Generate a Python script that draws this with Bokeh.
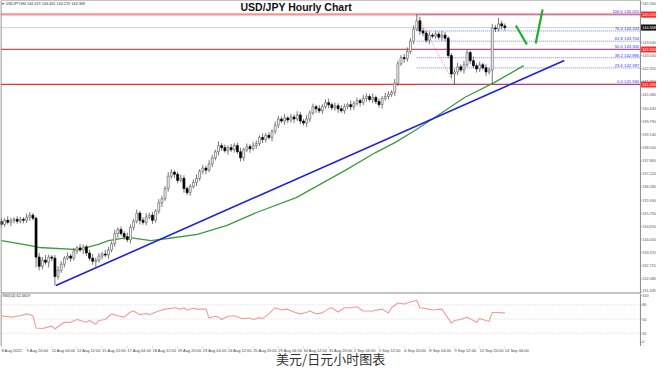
from bokeh.plotting import figure
from bokeh.layouts import column
from bokeh.models import Range1d
from bokeh.embed import file_html
from bokeh.resources import INLINE
from bokeh.core.properties import value

# ---------------- data ----------------
first_open = 134.90
closes = [
    134.75, 134.95, 134.85, 134.95, 135.00, 134.90, 135.00, 134.95, 135.10, 135.20,
    135.05, 133.15, 132.70, 133.00, 132.90, 133.15, 133.10, 132.20, 132.50, 132.80,
    133.10, 133.20, 133.10, 133.45, 133.60, 133.50, 133.65, 133.35, 133.10, 132.95,
    133.00, 133.20, 133.30, 133.25, 133.50, 133.80, 134.30, 134.50, 134.30, 134.15,
    134.00, 134.60, 134.90, 135.30, 134.95, 134.85, 135.10, 135.20, 134.95, 135.40,
    135.80, 136.00, 136.50, 137.10, 137.30, 137.20, 136.90, 137.00, 136.50, 136.30,
    136.60, 136.80, 137.00, 137.35, 137.50, 137.40, 137.70, 138.00, 138.30, 138.60,
    138.50, 138.35, 138.50, 138.40, 138.60, 138.30, 138.00, 138.40, 138.55, 138.45,
    138.60, 138.70, 139.00, 138.90, 139.10, 139.00, 139.30, 139.60, 139.90, 139.80,
    139.95, 139.85, 140.00, 139.90, 140.10, 139.80, 139.70, 139.90, 140.20, 140.50,
    140.40, 140.30, 140.50, 140.70, 140.60, 140.45, 140.55, 140.40, 140.30, 140.50,
    140.60, 140.50, 140.65, 140.80, 140.70, 140.90, 141.00, 140.85, 140.95, 140.75,
    140.60, 140.90, 141.00, 141.10, 141.20, 141.65, 142.60, 142.90, 142.85, 143.20,
    143.70, 144.30, 144.70, 144.20, 144.10, 143.75, 144.00, 143.95, 144.05, 143.90,
    144.00, 143.85, 143.00, 142.10, 142.20, 142.45, 142.30, 142.55, 143.15, 142.75,
    142.50, 142.35, 142.55, 142.40, 142.20, 142.30, 144.35, 144.30, 144.55, 144.45,
    144.37,
]
up_wick = [
    0.15, 0.10, 0.20, 0.12, 0.10, 0.15, 0.12, 0.10, 0.18, 0.15,
    0.10, 0.08, 0.20, 0.15, 0.25, 0.12, 0.10, 0.15, 0.20, 0.15,
    0.10, 0.18, 0.12, 0.15, 0.10, 0.20, 0.12, 0.10, 0.15, 0.20,
    0.12, 0.15, 0.10, 0.20, 0.15, 0.12, 0.18, 0.10, 0.15, 0.12,
    0.20, 0.15, 0.12, 0.18, 0.10, 0.15, 0.20, 0.12, 0.15, 0.10,
    0.18, 0.15, 0.12, 0.20, 0.15, 0.10, 0.12, 0.18, 0.15, 0.10,
    0.12, 0.15, 0.20, 0.10, 0.15, 0.12, 0.18, 0.15, 0.10, 0.20,
    0.12, 0.15, 0.10, 0.18, 0.12, 0.15, 0.20, 0.10, 0.15, 0.12,
    0.18, 0.15, 0.10, 0.20, 0.12, 0.15, 0.10, 0.18, 0.15, 0.12,
    0.20, 0.10, 0.15, 0.12, 0.18, 0.15, 0.10, 0.20, 0.12, 0.15,
    0.10, 0.18, 0.12, 0.15, 0.20, 0.10, 0.15, 0.12, 0.18, 0.15,
    0.10, 0.20, 0.12, 0.15, 0.10, 0.18, 0.15, 0.12, 0.20, 0.10,
    0.15, 0.12, 0.18, 0.15, 0.10, 0.20, 0.15, 0.12, 0.18, 0.20,
    0.15, 0.18, 0.31, 0.20, 0.15, 0.12, 0.18, 0.10, 0.15, 0.12,
    0.20, 0.15, 0.10, 0.12, 0.15, 0.20, 0.12, 0.18, 0.15, 0.10,
    0.20, 0.12, 0.15, 0.10, 0.18, 0.12, 0.20, 0.15, 0.30, 0.15,
    0.12,
]
down_wick = [
    0.15, 0.12, 0.10, 0.18, 0.15, 0.12, 0.10, 0.15, 0.12, 0.18,
    0.10, 0.50, 0.20, 0.15, 0.12, 0.25, 0.15, 0.44, 0.15, 0.12,
    0.15, 0.10, 0.18, 0.12, 0.15, 0.10, 0.20, 0.15, 0.12, 0.18,
    0.35, 0.12, 0.15, 0.10, 0.18, 0.12, 0.15, 0.20, 0.10, 0.15,
    0.12, 0.18, 0.15, 0.10, 0.20, 0.12, 0.15, 0.10, 0.18, 0.12,
    0.15, 0.20, 0.10, 0.15, 0.12, 0.18, 0.15, 0.10, 0.20, 0.12,
    0.15, 0.10, 0.18, 0.12, 0.15, 0.20, 0.10, 0.15, 0.12, 0.18,
    0.15, 0.10, 0.20, 0.12, 0.15, 0.10, 0.18, 0.15, 0.12, 0.20,
    0.10, 0.15, 0.12, 0.18, 0.15, 0.10, 0.20, 0.12, 0.15, 0.10,
    0.18, 0.15, 0.12, 0.20, 0.10, 0.15, 0.12, 0.18, 0.15, 0.10,
    0.20, 0.12, 0.15, 0.10, 0.18, 0.12, 0.15, 0.20, 0.10, 0.15,
    0.12, 0.18, 0.15, 0.10, 0.20, 0.12, 0.15, 0.10, 0.18, 0.12,
    0.15, 0.20, 0.10, 0.15, 0.12, 0.18, 0.15, 0.10, 0.20, 0.15,
    0.12, 0.15, 0.10, 0.18, 0.15, 0.12, 0.20, 0.10, 0.15, 0.12,
    0.18, 0.15, 0.12, 0.20, 0.51, 0.15, 0.12, 0.18, 0.10, 0.15,
    0.12, 0.18, 0.15, 0.10, 0.20, 0.12, 0.70, 0.15, 0.12, 0.18,
    0.15,
]

# moving average (green line), read at points
ma_bar = [0, 8.8, 11.9, 24.5, 30.8, 34, 40.3, 47.5, 52.8, 62.3, 71.7, 81.1,
          93.7, 109.4, 118.9, 125.2, 131.4, 137.7, 147.2, 156.6, 166]
ma_val = [133.96, 133.72, 133.62, 133.52, 133.77, 133.96, 134.11, 133.96, 134.06,
          134.26, 134.70, 135.33, 136.06, 137.40, 138.26, 138.76, 139.34, 139.97,
          140.95, 141.68, 142.51]

# blue trend line and green hand-drawn arrow
trend_bar = [17.3, 178.9]
trend_val = [131.76, 142.76]
arrow1_bar = [163.5, 167.0]
arrow1_val = [144.47, 143.54]
arrow2_bar = [169.8, 172.0]
arrow2_val = [143.59, 145.25]

# Fibonacci retracement
fib_start_bar = 132
fib_end_bar = 144
fib_names = ["100.0", "76.4", "61.8", "50.0", "38.2", "23.6", "0.0"]
fib_levels = [145.010, 144.203, 143.704, 143.300, 142.896, 142.397, 141.590]
red_levels = [145.010, 143.300, 141.590]
current_price = 144.368

price_ticks = [145.560, 144.915, 144.270, 143.640, 143.000, 142.355, 141.710,
               141.080, 140.430, 139.790, 139.140, 138.500, 137.860, 137.220,
               136.580, 135.930, 135.290, 134.650, 134.000, 133.370, 132.725,
               132.080, 131.435]

# RSI(14)
rsi_bar = [0, 3, 6, 8, 10, 11, 13, 16, 17, 19, 20, 22, 24, 27, 28, 30, 31, 33, 35,
           37, 39, 41, 42, 44, 46, 47, 50, 52, 54, 55, 57, 58, 59, 61, 62, 65, 66,
           68, 69, 70, 72, 74, 76, 77, 79, 80, 82, 83, 85, 87, 89, 91, 93, 95, 97,
           98, 100, 102, 104, 105, 107, 109, 111, 113, 115, 118, 121, 123, 124, 126,
           128, 130, 132, 133, 135, 137, 140, 141, 143, 144, 146, 148, 150, 151, 152,
           154, 155, 156, 158, 159, 160]
rsi_val = [57, 54, 57, 61, 57, 31, 30, 35, 29, 39, 43, 43, 49, 43, 47, 39, 47, 49, 61,
           57, 54, 65, 67, 59, 62, 59, 67, 71, 73, 74, 71, 74, 69, 73, 71, 71, 52,
           56, 54, 49, 56, 57, 52, 51, 52, 49, 53, 51, 61, 74, 69, 71, 65, 61, 64,
           67, 61, 63, 72, 74, 65, 74, 74, 76, 67, 67, 71, 63, 74, 84,
           82, 86, 90, 74, 72, 69, 71, 61, 41, 47, 49, 54, 47, 43, 51,
           47, 45, 64, 64, 63, 63]
rsi_levels = [80, 50, 20]
rsi_ticks = [0, 20, 50, 80, 100]

date_bar = [0, 8, 16, 24, 32, 40, 48, 56, 64, 72, 80, 88, 96, 104, 112, 120, 128,
            136, 144, 152, 160]
date_labels = ["8 Aug 2022", "9 Aug 20:00", "11 Aug 04:00", "12 Aug 12:00",
               "15 Aug 20:00", "17 Aug 04:00", "18 Aug 12:00", "19 Aug 20:00",
               "23 Aug 04:00", "24 Aug 12:00", "25 Aug 20:00", "29 Aug 04:00",
               "30 Aug 12:00", "31 Aug 20:00", "2 Sep 04:00", "5 Sep 12:00",
               "6 Sep 20:00", "8 Sep 04:00", "9 Sep 12:00", "12 Sep 20:00",
               "14 Sep 04:00"]

title_text = "USD/JPY Hourly Chart"
header_text = "\u25be USDJPY,H4  144.419 144.461 144.219 144.368"
rsi_text = "RSI(14) 62.4619"
caption_text = "美元/日元小时图表"

# ---------------- derived candle geometry ----------------
opens = [first_open] + closes[:-1]
bars = list(range(len(closes)))
highs = [max(o, c) + u for o, c, u in zip(opens, closes, up_wick)]
lows = [min(o, c) - d for o, c, d in zip(opens, closes, down_wick)]
bull = [i for i in bars if closes[i] >= opens[i]]
bear = [i for i in bars if closes[i] < opens[i]]

X0, X1 = -0.3, 208.2      # whole canvas width (plot + price scale)
XA = 203.1                # position of the price-scale line
W = 656
FONT = value("Liberation Sans")
SMALL = "4.2px"
SCALE_FONT = "3.8px"
GRAY = "#8a8a8a"

xr = Range1d(X0, X1)


def base(height, yr):
    f = figure(width=W, height=height, x_range=xr, y_range=yr,
               output_backend="svg", toolbar_location=None,
               x_axis_location=None, y_axis_location=None,
               min_border_left=0, min_border_top=0, min_border_bottom=0,
               min_border_right=0)
    f.grid.visible = False
    f.outline_line_color = None
    f.background_fill_color = "white"
    f.border_fill_color = "white"
    return f


def frame_box(f, y0, y1, wb=1.0):
    f.segment(x0=[X0 + 0.15, X0 + 0.15, X0, XA], x1=[X0 + 0.15, XA, XA, XA],
              y0=[y0, y1, y0, y0], y1=[y1, y1, y0, y1],
              line_color=GRAY, line_width=[1.2, 1.0, wb, 1.0])


def scale(f, ticks, labels):
    f.segment(x0=[XA] * len(ticks), x1=[XA + 0.45] * len(ticks), y0=ticks, y1=ticks,
              line_color=GRAY, line_width=0.8)
    # all but the lowest label are centred on their tick; the lowest sits just above it
    f.text(x=[XA + 0.55] * (len(ticks) - 1), y=ticks[:-1], text=labels[:-1],
           text_font=FONT, text_font_size=SCALE_FONT, text_color="#555555",
           text_baseline="middle", text_align="left")
    f.text(x=[XA + 0.55], y=[ticks[-1]], text=[labels[-1]], text_font=FONT,
           text_font_size=SCALE_FONT, text_color="#555555", text_baseline="bottom",
           text_align="left")


# ---------------- main price panel ----------------
PY0, PY1 = 131.371, 145.692
p = base(293, Range1d(PY0, PY1))

# horizontal levels
p.segment(x0=[X0] * len(red_levels), x1=[XA] * len(red_levels),
          y0=red_levels, y1=red_levels,
          line_color=["#ff9090", "#e84848", "#e83030"], line_width=[2.2, 1.3, 1.3])
p.segment(x0=[X0], x1=[XA], y0=[current_price], y1=[current_price],
          line_color="#d4d4d4", line_width=1)
p.segment(x0=[fib_start_bar] * len(fib_levels), x1=[XA] * len(fib_levels),
          y0=fib_levels, y1=fib_levels, line_color="#5a5aff", line_width=0.8,
          line_dash="1 1")
p.line([fib_start_bar, fib_end_bar], [fib_levels[0], fib_levels[-1]],
       line_color="#ff7070", line_width=0.8, line_dash="1 1")
p.text(x=[XA - 0.4] * len(fib_levels), y=fib_levels,
       text=[f"{n} {v:.3f}" for n, v in zip(fib_names, fib_levels)],
       text_font=FONT, text_font_size=SMALL, text_color="#3030ff",
       text_align="right", text_baseline="bottom")

# MA and trend lines
p.line(ma_bar, ma_val, line_color="#3d9b3d", line_width=1.3)
p.line(trend_bar, trend_val, line_color="#2020e0", line_width=1.6)
p.line(arrow1_bar, arrow1_val, line_color="#1fae2a", line_width=2.2)
p.line(arrow2_bar, arrow2_val, line_color="#1fae2a", line_width=2.2)

# candles
p.segment(x0=bars, x1=bars, y0=highs, y1=lows, line_color="#555555", line_width=0.8)
p.vbar(x=bull, width=0.62, top=[closes[i] for i in bull], bottom=[opens[i] for i in bull],
       fill_color="white", line_color="#666666", line_width=0.7)
p.vbar(x=bear, width=0.62, top=[opens[i] for i in bear], bottom=[closes[i] for i in bear],
       fill_color="black", line_color="black", line_width=0.7)

# frame and price scale
frame_box(p, PY0, PY1, wb=2.0)
scale(p, price_ticks, [f"{t:.3f}" for t in price_ticks])

# price tags on the scale
tag_vals = red_levels + [current_price]
tag_cols = ["#ff2a2a"] * len(red_levels) + ["#111111"]
p.rect(x=[(XA + X1) / 2 + 0.05] * len(tag_vals), y=tag_vals, width=X1 - XA - 0.3,
       height=6, height_units="screen", fill_color=tag_cols, line_color=None)
p.text(x=[XA + 0.55] * len(tag_vals), y=tag_vals, text=[f"{v:.3f}" for v in tag_vals],
       text_font=FONT, text_font_size=SCALE_FONT, text_color="white",
       text_baseline="middle", text_align="left")

# texts
p.text(x=[93.7], y=[145.66], text=[title_text], text_font=value("Liberation Sans"),
       text_font_size="10.5px", text_font_style="bold", text_color="#111111",
       text_align="center", text_baseline="top")
p.text(x=[0.3], y=[145.62], text=[header_text], text_font=FONT,
       text_font_size="3.8px", text_color="#333333", text_baseline="top")

# ---------------- RSI panel ----------------
RY0, RY1 = -8.16, 104.1
r = base(53, Range1d(RY0, RY1))
r.segment(x0=[X0] * len(rsi_levels), x1=[XA] * len(rsi_levels), y0=rsi_levels,
          y1=rsi_levels, line_color="#c4c4c4", line_width=0.8, line_dash="1 2")
r.line(rsi_bar, rsi_val, line_color="#f59a9a", line_width=1.1)
r.text(x=[0.3], y=[102.0], text=[rsi_text], text_font=FONT, text_font_size="3.8px",
       text_color="#333333", text_baseline="top")
frame_box(r, RY0, RY1, wb=1.0)
rsi_desc = sorted(rsi_ticks, reverse=True)
scale(r, rsi_desc, [str(t) for t in rsi_desc])

# ---------------- date labels + caption ----------------
b = base(22, Range1d(0, 22))
b.segment(x0=date_bar, x1=date_bar, y0=[22] * len(date_bar), y1=[21] * len(date_bar),
          line_color=GRAY, line_width=0.8)
b.text(x=date_bar, y=[20.6] * len(date_bar), text=date_labels, text_font=FONT,
       text_font_size="4px", text_color="#444444", text_baseline="top", text_align="left")
b.text(x=[87.3], y=[10.0], text=[caption_text], text_font=value("Noto Sans CJK SC"),
       text_font_size="13px", text_color="#333333", text_baseline="middle",
       text_align="left")

layout = column(p, r, b, spacing=0)
open("out.html", "w").write(file_html(layout, INLINE))
